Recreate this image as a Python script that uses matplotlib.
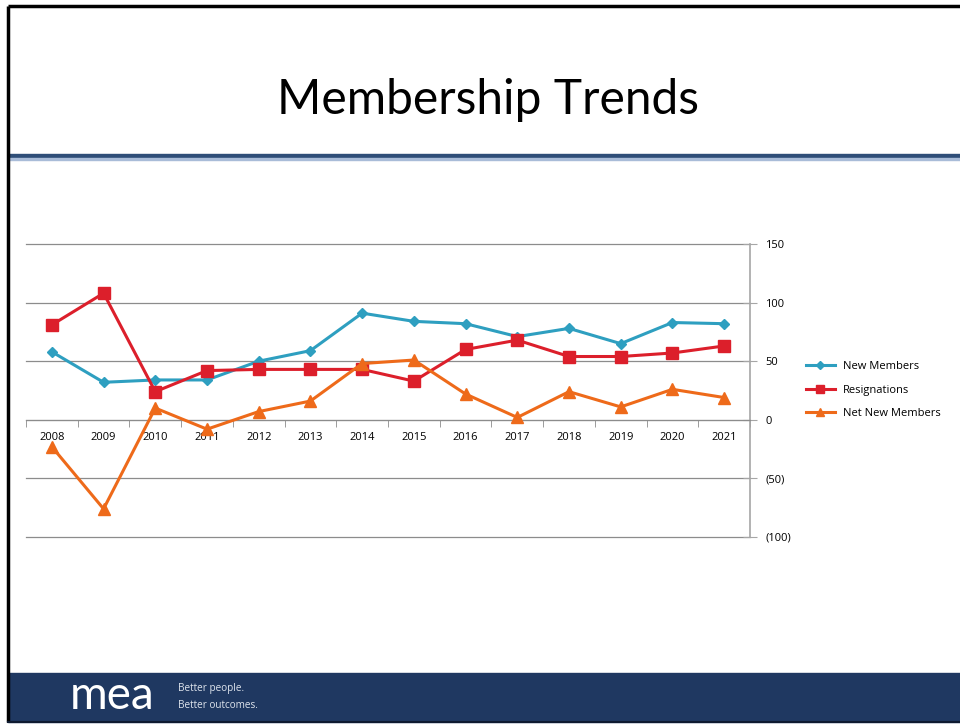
import matplotlib.pyplot as plt
from matplotlib.patches import Rectangle
from matplotlib.lines import Line2D

years = ['2008', '2009', '2010', '2011', '2012', '2013', '2014',
         '2015', '2016', '2017', '2018', '2019', '2020', '2021']
new_members = [58, 32, 34, 34, 50, 59, 91, 84, 82, 71, 78, 65, 83, 82]
resignations = [81, 108, 24, 42, 43, 43, 43, 33, 60, 68, 54, 54, 57, 63]
net_new = [-23, -76, 10, -8, 7, 16, 48, 51, 22, 2, 24, 11, 26, 19]
y_ticks = [150, 100, 50, 0, -50, -100]
y_labels = ['150', '100', '50', '0', '(50)', '(100)']

W, H = 960, 724
fig = plt.figure(figsize=(W / 100, H / 100), dpi=100)

# slide decoration, in pixel coordinates
bg = fig.add_axes([0, 0, 1, 1])
bg.set_xlim(0, W)
bg.set_ylim(H, 0)
bg.axis('off')
bg.add_patch(Rectangle((8, 673), W - 8, 49, color='#1F3861'))
bg.add_patch(Rectangle((8, 154), W - 8, 4, color='#2F4E78'))
bg.add_patch(Rectangle((8, 158), W - 8, 1.5, color='#A9BCD8'))
bg.plot([8, W], [6, 6], color='black', lw=2.5, solid_capstyle='butt')
bg.plot([8, 8], [6, 722], color='black', lw=2.5, solid_capstyle='butt')
bg.plot([8, W], [722, 722], color='#0E1A30', lw=1.5)
bg.text(488, 100, 'Membership Trends', ha='center', va='center',
        fontsize=34.5, family='Lato', color='black')
bg.text(70, 696, 'mea', ha='left', va='center', fontsize=33,
        family='Lato', color='white')
bg.text(178, 689, 'Better people.', ha='left', va='center', fontsize=7.2,
        family='Open Sans', color='#DDE3EC')
bg.text(178, 706, 'Better outcomes.', ha='left', va='center', fontsize=7.2,
        family='Open Sans', color='#DDE3EC')

# chart
ax = fig.add_axes([26 / W, 1 - 537 / H, (750 - 26) / W, (537 - 244) / H])
x = list(range(len(years)))
teal, red, orange = '#2E9FC0', '#DC1F2B', '#EE6A1A'
ax.plot(x, new_members, color=teal, lw=2.2, marker='D', ms=5.5, zorder=3)
ax.plot(x, resignations, color=red, lw=2.2, marker='s', ms=8, zorder=4)
ax.plot(x, net_new, color=orange, lw=2.2, marker='^', ms=8, zorder=5)

ax.set_xlim(-0.5, len(years) - 0.5)
ax.set_ylim(-100, 150)
for v in y_ticks:
    ax.axhline(v, color='#8C8C8C', lw=0.9, zorder=1, clip_on=False)

ax.spines['top'].set_visible(False)
ax.spines['left'].set_visible(False)
ax.spines['right'].set_color('#A6A6A6')
ax.spines['right'].set_linewidth(1.2)
ax.spines['bottom'].set_position(('data', 0))
ax.spines['bottom'].set_color('#8C8C8C')

ax.yaxis.tick_right()
ax.set_yticks(y_ticks)
ax.set_yticklabels(y_labels, fontsize=8, family='Open Sans')
ax.tick_params(axis='y', direction='inout', length=10, color='#A6A6A6',
               pad=6)

ax.set_xticks(x)
ax.set_xticklabels(years, fontsize=8, family='Open Sans')
ax.set_xticks([i - 0.5 for i in range(len(years) + 1)], minor=True)
ax.tick_params(axis='x', which='major', length=0, pad=9)
ax.tick_params(axis='x', which='minor', length=5, color='#8C8C8C')

handles = [
    Line2D([], [], color=teal, lw=2.2, marker='D', ms=4),
    Line2D([], [], color=red, lw=2.2, marker='s', ms=6),
    Line2D([], [], color=orange, lw=2.2, marker='^', ms=6),
]
fig.legend(handles, ['New Members', 'Resignations', 'Net New Members'],
           loc='center left', bbox_to_anchor=(796 / W, 1 - 390 / H),
           frameon=False, handlelength=2.6, handletextpad=0.7,
           labelspacing=1.1, prop={'family': 'Open Sans', 'size': 8})

fig.savefig('out.png', dpi=100)
